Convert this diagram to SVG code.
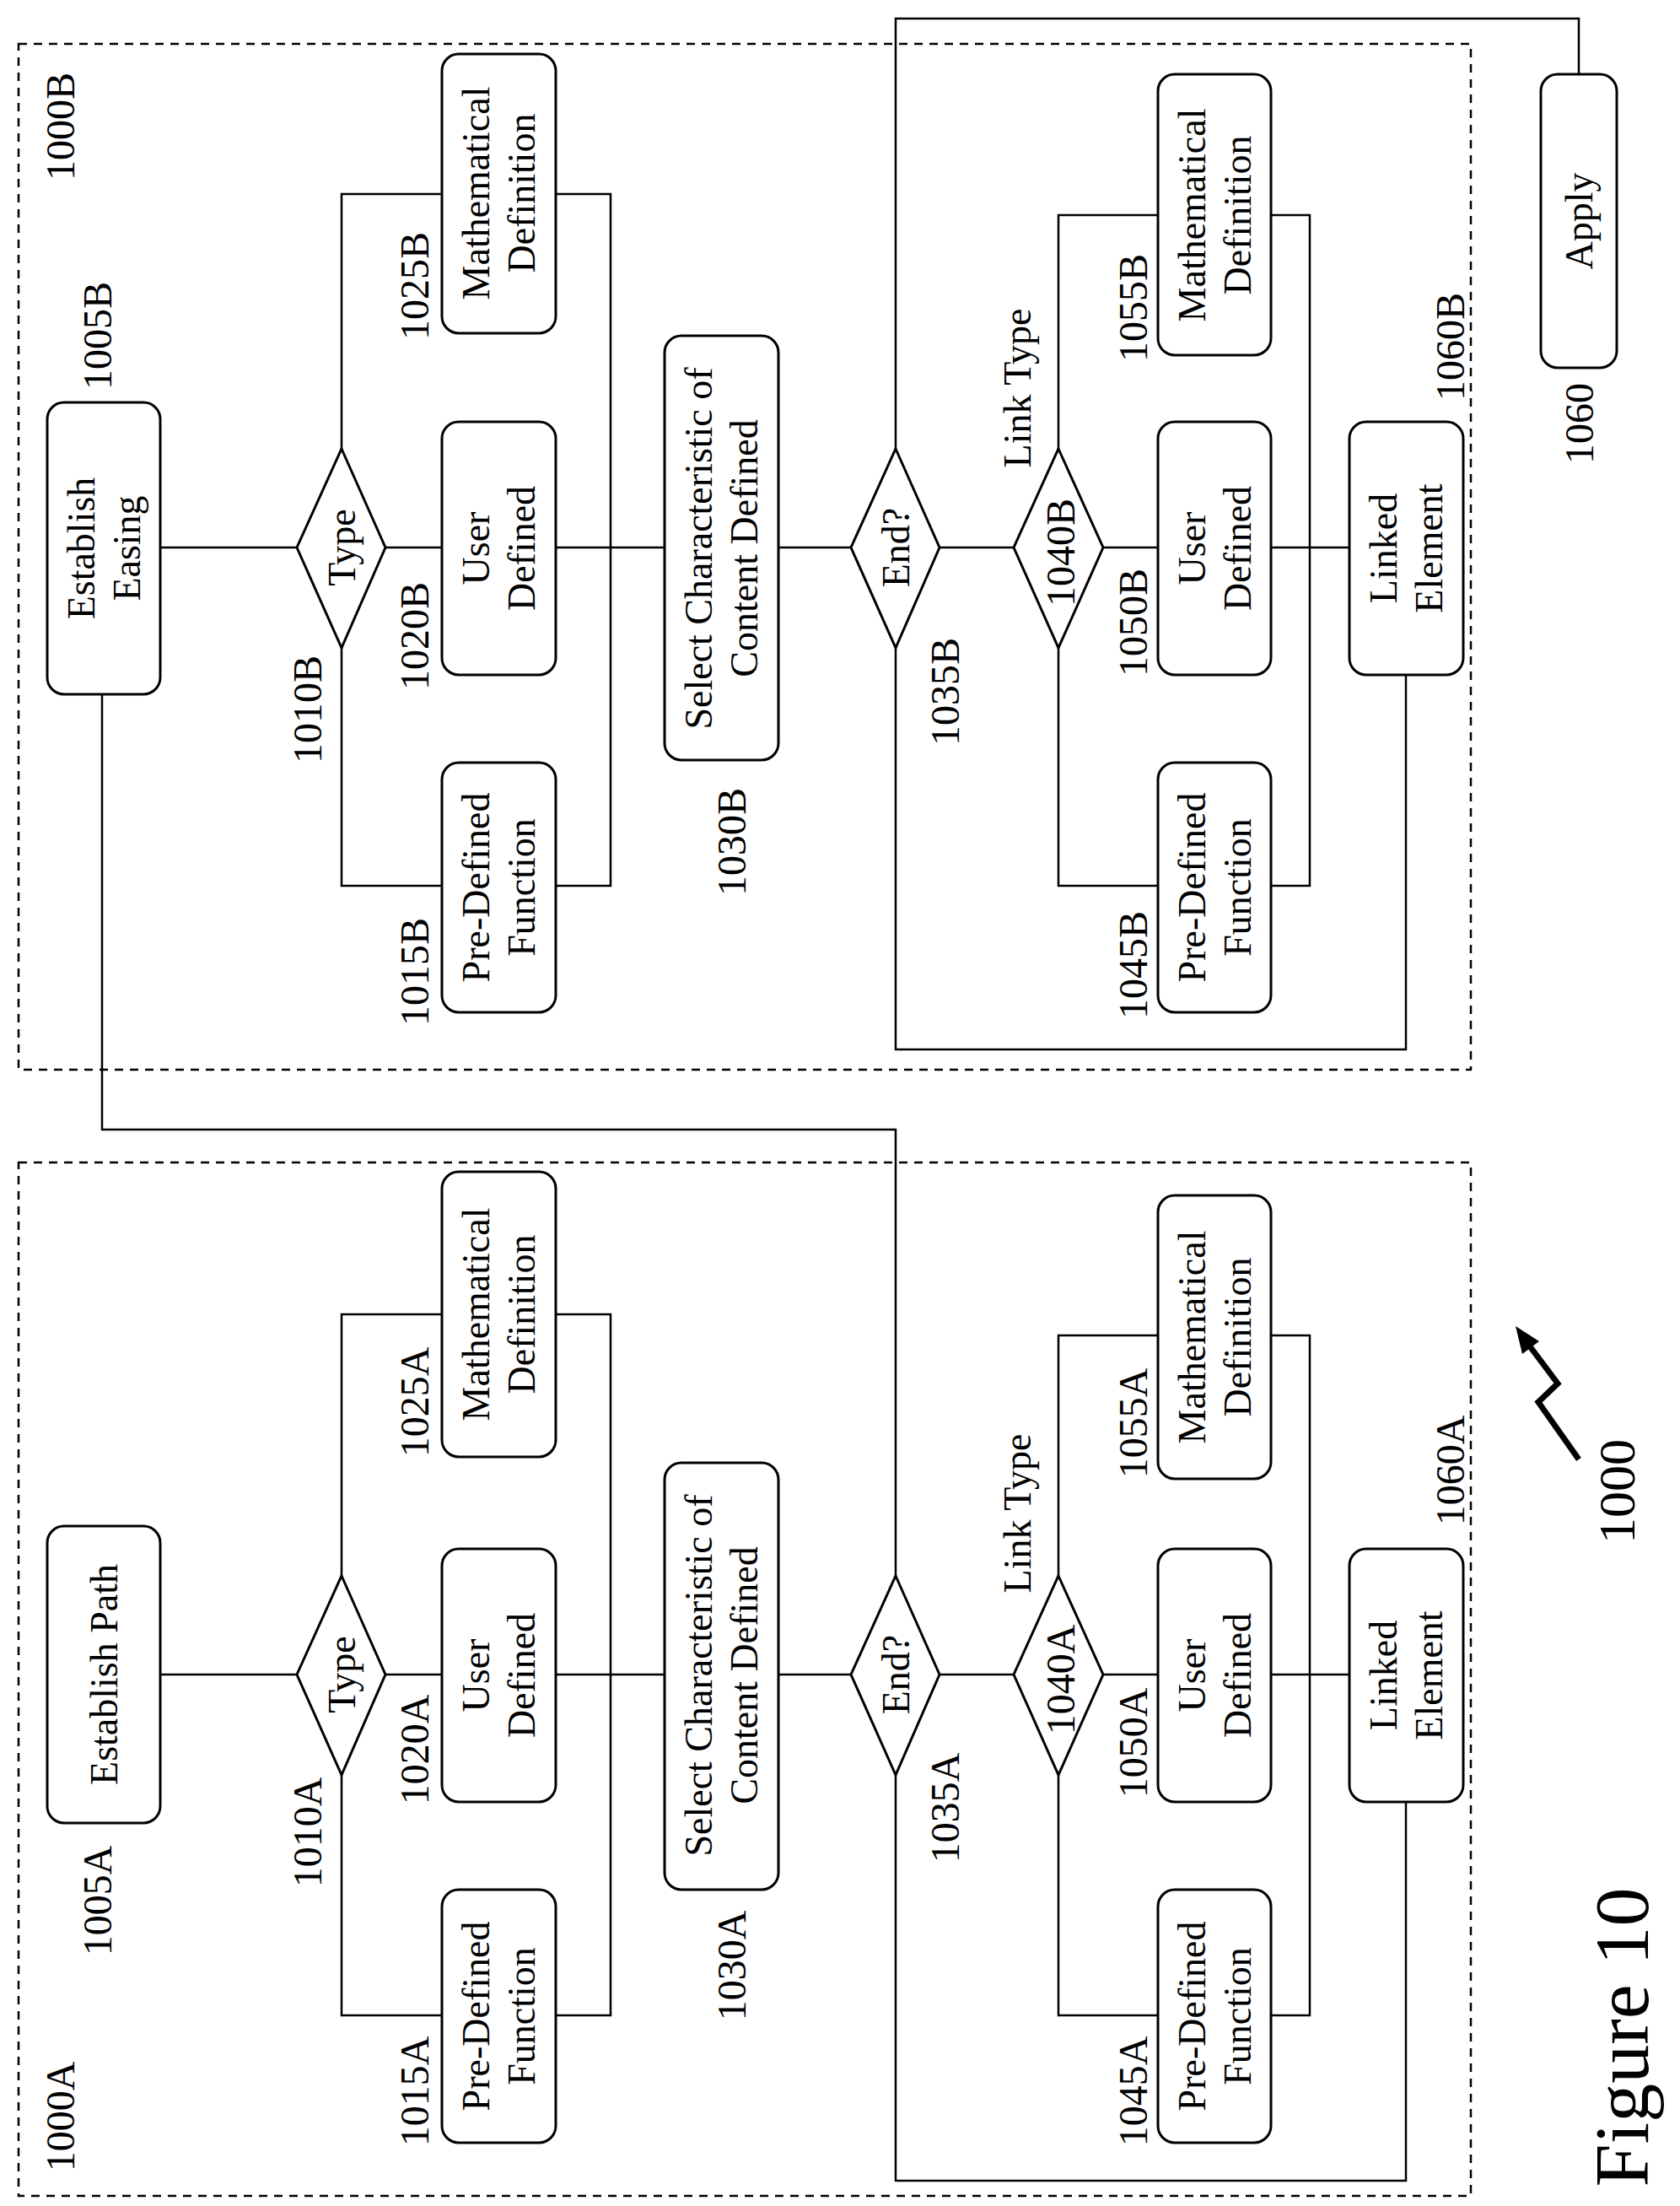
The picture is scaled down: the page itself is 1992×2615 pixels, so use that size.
<svg xmlns="http://www.w3.org/2000/svg" width="1992" height="2615" viewBox="0 0 1992 2615">
<style>
.b{fill:#fff;stroke:#000;stroke-width:3}
.d{fill:none;stroke:#000;stroke-width:2.5;stroke-dasharray:10 8}
.c{fill:none;stroke:#000;stroke-width:2.5}
text{font-family:"Liberation Serif","Times New Roman",serif;font-size:46px;fill:#000;text-anchor:middle;dominant-baseline:central}
.l{font-size:48px}
.big{font-size:62px}
.fig{font-size:92px}
</style>
<rect width="1992" height="2615" fill="#fff"/>
<g id="connectors">
<polyline class="c" points="190,649 352,649"/>
<polyline class="c" points="457,649 524,649"/>
<polyline class="c" points="659,649 788,649"/>
<polyline class="c" points="405,532 405,230 524,230"/>
<polyline class="c" points="405,768 405,1050 524,1050"/>
<polyline class="c" points="659,230 724,230 724,1050 659,1050"/>
<polyline class="c" points="923,649 1009,649"/>
<polyline class="c" points="1114,649 1202,649"/>
<polyline class="c" points="1308,649 1373,649"/>
<polyline class="c" points="1507,649 1600,649"/>
<polyline class="c" points="1255,532 1255,255 1373,255"/>
<polyline class="c" points="1255,768 1255,1050 1373,1050"/>
<polyline class="c" points="1507,255 1553,255 1553,1050 1507,1050"/>
<polyline class="c" points="1062,532 1062,22 1872,22 1872,88"/>
<polyline class="c" points="1062,768 1062,1244 1667,1244 1667,800"/>
<polyline class="c" points="121,823 121,1339 1062,1339 1062,1868"/>
<g transform="translate(0,1336)">
<polyline class="c" points="190,649 352,649"/>
<polyline class="c" points="457,649 524,649"/>
<polyline class="c" points="659,649 788,649"/>
<polyline class="c" points="405,532 405,222 524,222"/>
<polyline class="c" points="405,768 405,1053 524,1053"/>
<polyline class="c" points="659,222 724,222 724,1053 659,1053"/>
<polyline class="c" points="923,649 1009,649"/>
<polyline class="c" points="1114,649 1202,649"/>
<polyline class="c" points="1308,649 1373,649"/>
<polyline class="c" points="1507,649 1600,649"/>
<polyline class="c" points="1255,532 1255,247 1373,247"/>
<polyline class="c" points="1255,768 1255,1053 1373,1053"/>
<polyline class="c" points="1507,247 1553,247 1553,1053 1507,1053"/>
<polyline class="c" points="1062,768 1062,1249 1667,1249 1667,800"/>
</g>
</g>
<g id="groupB">
<rect class="d" x="22" y="52" width="1722" height="1216"/>
<text class="l" transform="translate(71,150) rotate(-90)">1000B</text>
</g>
<g id="n1005B"><rect class="b" x="56" y="477" width="134" height="346" rx="20"/>
<text transform="translate(123,650) rotate(-90)"><tspan x="0" y="-27">Establish</tspan><tspan x="0" y="27">Easing</tspan></text>
<text class="l" transform="translate(115,398) rotate(-90)">1005B</text></g>
<g id="n1010B"><polygon class="b" points="405,532 457,649 405,768 352,649"/>
<text transform="translate(405,649) rotate(-90)">Type</text>
<text class="l" transform="translate(364,841) rotate(-90)">1010B</text></g>
<g id="n1025B"><rect class="b" x="524" y="64" width="135" height="331" rx="20"/>
<text transform="translate(591,229) rotate(-90)"><tspan x="0" y="-27">Mathematical</tspan><tspan x="0" y="27">Definition</tspan></text>
<text class="l" transform="translate(491,339) rotate(-90)">1025B</text></g>
<g id="n1020B"><rect class="b" x="524" y="500" width="135" height="300" rx="20"/>
<text transform="translate(591,650) rotate(-90)"><tspan x="0" y="-27">User</tspan><tspan x="0" y="27">Defined</tspan></text>
<text class="l" transform="translate(491,754) rotate(-90)">1020B</text></g>
<g id="n1015B"><rect class="b" x="524" y="904" width="135" height="296" rx="20"/>
<text transform="translate(591,1052) rotate(-90)"><tspan x="0" y="-27">Pre-Defined</tspan><tspan x="0" y="27">Function</tspan></text>
<text class="l" transform="translate(491,1152) rotate(-90)">1015B</text></g>
<g id="n1030B"><rect class="b" x="788" y="398" width="135" height="503" rx="20"/>
<text transform="translate(855,650) rotate(-90)"><tspan x="0" y="-27">Select Characteristic of</tspan><tspan x="0" y="27">Content Defined</tspan></text>
<text class="l" transform="translate(867,998) rotate(-90)">1030B</text></g>
<g id="n1035B"><polygon class="b" points="1062,532 1114,649 1062,768 1009,649"/>
<text transform="translate(1062,649) rotate(-90)">End?</text>
<text class="l" transform="translate(1120,820) rotate(-90)">1035B</text></g>
<g id="n1040B"><polygon class="b" points="1255,532 1308,649 1255,768 1202,649"/>
<text class="l" transform="translate(1257,655) rotate(-90)">1040B</text>
<text transform="translate(1206,460) rotate(-90)">Link Type</text></g>
<g id="n1055B"><rect class="b" x="1373" y="88" width="134" height="333" rx="20"/>
<text transform="translate(1440,255) rotate(-90)"><tspan x="0" y="-27">Mathematical</tspan><tspan x="0" y="27">Definition</tspan></text>
<text class="l" transform="translate(1343,365) rotate(-90)">1055B</text></g>
<g id="n1050B"><rect class="b" x="1373" y="500" width="134" height="300" rx="20"/>
<text transform="translate(1440,650) rotate(-90)"><tspan x="0" y="-27">User</tspan><tspan x="0" y="27">Defined</tspan></text>
<text class="l" transform="translate(1343,738) rotate(-90)">1050B</text></g>
<g id="n1045B"><rect class="b" x="1373" y="904" width="134" height="296" rx="20"/>
<text transform="translate(1440,1052) rotate(-90)"><tspan x="0" y="-27">Pre-Defined</tspan><tspan x="0" y="27">Function</tspan></text>
<text class="l" transform="translate(1343,1144) rotate(-90)">1045B</text></g>
<g id="n1060B"><rect class="b" x="1600" y="500" width="135" height="300" rx="20"/>
<text transform="translate(1667,650) rotate(-90)"><tspan x="0" y="-27">Linked</tspan><tspan x="0" y="27">Element</tspan></text>
<text class="l" transform="translate(1719,411) rotate(-90)">1060B</text></g>
<g id="n1060"><rect class="b" x="1827" y="88" width="90" height="348" rx="20"/>
<text transform="translate(1872,262) rotate(-90)">Apply</text>
<text class="l" transform="translate(1872,502) rotate(-90)">1060</text></g>

<g id="groupA">
<rect class="d" x="22" y="1378" width="1722" height="1225"/>
<text class="l" transform="translate(71,2509) rotate(-90)">1000A</text>
</g>
<g id="n1005A"><rect class="b" x="56" y="1809" width="134" height="352" rx="20"/>
<text transform="translate(123,1985) rotate(-90)">Establish Path</text>
<text class="l" transform="translate(115,2253) rotate(-90)">1005A</text></g>
<g transform="translate(0,1336)">
<g id="n1010A"><polygon class="b" points="405,532 457,649 405,768 352,649"/>
<text transform="translate(405,649) rotate(-90)">Type</text>
<text class="l" transform="translate(364,836) rotate(-90)">1010A</text></g>
<g id="n1025A"><rect class="b" x="524" y="53" width="135" height="338" rx="20"/>
<text transform="translate(591,222) rotate(-90)"><tspan x="0" y="-27">Mathematical</tspan><tspan x="0" y="27">Definition</tspan></text>
<text class="l" transform="translate(491,326) rotate(-90)">1025A</text></g>
<g id="n1020A"><rect class="b" x="524" y="500" width="135" height="300" rx="20"/>
<text transform="translate(591,650) rotate(-90)"><tspan x="0" y="-27">User</tspan><tspan x="0" y="27">Defined</tspan></text>
<text class="l" transform="translate(491,738) rotate(-90)">1020A</text></g>
<g id="n1015A"><rect class="b" x="524" y="904" width="135" height="300" rx="20"/>
<text transform="translate(591,1054) rotate(-90)"><tspan x="0" y="-27">Pre-Defined</tspan><tspan x="0" y="27">Function</tspan></text>
<text class="l" transform="translate(491,1143) rotate(-90)">1015A</text></g>
<g id="n1030A"><rect class="b" x="788" y="398" width="135" height="506" rx="20"/>
<text transform="translate(855,650) rotate(-90)"><tspan x="0" y="-27">Select Characteristic of</tspan><tspan x="0" y="27">Content Defined</tspan></text>
<text class="l" transform="translate(867,994) rotate(-90)">1030A</text></g>
<g id="n1035A"><polygon class="b" points="1062,532 1114,649 1062,768 1009,649"/>
<text transform="translate(1062,649) rotate(-90)">End?</text>
<text class="l" transform="translate(1120,807) rotate(-90)">1035A</text></g>
<g id="n1040A"><polygon class="b" points="1255,532 1308,649 1255,768 1202,649"/>
<text class="l" transform="translate(1257,655) rotate(-90)">1040A</text>
<text transform="translate(1206,458) rotate(-90)">Link Type</text></g>
<g id="n1055A"><rect class="b" x="1373" y="81" width="134" height="336" rx="20"/>
<text transform="translate(1440,249) rotate(-90)"><tspan x="0" y="-27">Mathematical</tspan><tspan x="0" y="27">Definition</tspan></text>
<text class="l" transform="translate(1343,351) rotate(-90)">1055A</text></g>
<g id="n1050A"><rect class="b" x="1373" y="500" width="134" height="300" rx="20"/>
<text transform="translate(1440,650) rotate(-90)"><tspan x="0" y="-27">User</tspan><tspan x="0" y="27">Defined</tspan></text>
<text class="l" transform="translate(1343,730) rotate(-90)">1050A</text></g>
<g id="n1045A"><rect class="b" x="1373" y="904" width="134" height="300" rx="20"/>
<text transform="translate(1440,1054) rotate(-90)"><tspan x="0" y="-27">Pre-Defined</tspan><tspan x="0" y="27">Function</tspan></text>
<text class="l" transform="translate(1343,1143) rotate(-90)">1045A</text></g>
<g id="n1060A"><rect class="b" x="1600" y="500" width="135" height="300" rx="20"/>
<text transform="translate(1667,650) rotate(-90)"><tspan x="0" y="-27">Linked</tspan><tspan x="0" y="27">Element</tspan></text>
<text class="l" transform="translate(1719,407) rotate(-90)">1060A</text></g>
</g>
<g id="ref1000">
<polyline fill="none" stroke="#000" stroke-width="7" points="1808,1588 1847,1640 1824,1662 1872,1730"/>
<polygon points="1797,1572 1825,1590 1805,1605" fill="#000"/>
<text class="big" transform="translate(1917,1768) rotate(-90)">1000</text>
</g>
<g id="figure"><text class="fig" transform="translate(1923,2415) rotate(-90)">Figure 10</text></g>
</svg>
